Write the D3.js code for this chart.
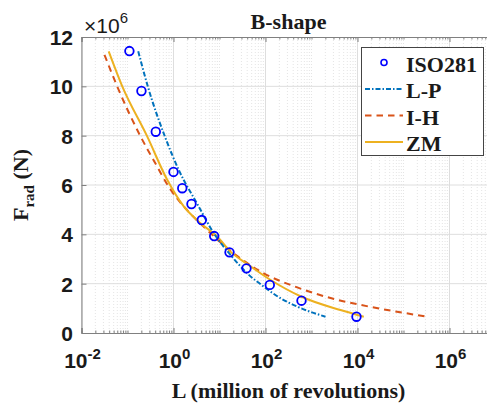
<!DOCTYPE html>
<html>
<head>
<meta charset="utf-8">
<script src="https://cdn.jsdelivr.net/npm/d3@7"></script>
<style>
  html, body { margin: 0; padding: 0; background: #fff; }
  svg { display: block; }
</style>
</head>
<body>
<svg id="chart" width="487" height="407"></svg>
<script>
// ---- Data (F in units of 1e6 N, L in million revolutions) ----
const isoL = [0.110, 0.201, 0.412, 1.0, 1.55, 2.46, 4.12, 7.67, 16.5, 38.6, 124, 606, 9500];
const isoF = [11.43, 9.81, 8.16, 6.53, 5.87, 5.23, 4.58, 3.93, 3.27, 2.62, 1.95, 1.31, 0.66];

const lpL = [0.171, 0.276, 0.670, 1.37, 3.27, 8.18, 17.3, 40.0, 91.8, 212, 489, 2014];
const lpF = [11.42, 10.0, 7.90, 6.52, 5.24, 3.94, 3.17, 2.42, 1.88, 1.41, 1.07, 0.66];

const ihL = [0.0316, 0.0596, 0.192, 0.40, 0.82, 1.8, 3.8, 22.3, 91.8, 489, 3926, 11600, 327000];
const ihF = [11.28, 10.0, 7.97, 6.89, 5.88, 5.06, 4.45, 3.17, 2.42, 1.85, 1.33, 1.14, 0.66];

const zmL = [0.039, 0.077, 0.268, 0.73, 1.67, 3.86, 8.9, 17.3, 40.0, 122, 607, 4266, 13700];
const zmF = [11.42, 10.0, 7.97, 6.21, 5.13, 4.45, 3.91, 3.30, 2.80, 2.18, 1.47, 0.93, 0.66];

const xTickVals = [1e-2, 1e0, 1e2, 1e4, 1e6];
const xTickExps = ["-2", "0", "2", "4", "6"];
const yTickVals = [0, 2, 4, 6, 8, 10, 12];

const seriesNames = ["ISO281", "L-P", "I-H", "ZM"];

// ---- Layout ----
const svg = d3.select("#chart");
const pL = 81.5, pT = 37, pB = 333, pR = 495.5;
const x = d3.scaleLog().domain([1e-2, 1e7]).range([pL, pR]);
const y = d3.scaleLinear().domain([0, 12]).range([pB, pT]);

const sansBold = "'Liberation Sans', Arial, sans-serif";
const serif = "'Liberation Serif', 'Times New Roman', serif";
const textCol = "#1a1a1a";
const axisCol = "#808080";

// plot background
svg.append("rect").attr("x", pL).attr("y", pT)
  .attr("width", pR - pL).attr("height", pB - pT).attr("fill", "#fff");

// minor vertical grid
const minorX = [];
for (let e = -2; e < 7; e++) {
  for (let m = 1; m <= 9; m++) {
    const v = m * Math.pow(10, e);
    if (m === 1 && e % 2 === 0) continue;
    minorX.push(v);
  }
}
const gGrid = svg.append("g");
gGrid.selectAll("line.minx").data(minorX).enter().append("line")
  .attr("x1", d => x(d)).attr("x2", d => x(d))
  .attr("y1", pT).attr("y2", pB)
  .attr("stroke", "#d8d8d8").attr("stroke-width", 0.7)
  .attr("stroke-dasharray", "1,2");
gGrid.selectAll("line.majx").data(xTickVals).enter().append("line")
  .attr("x1", d => x(d)).attr("x2", d => x(d))
  .attr("y1", pT).attr("y2", pB)
  .attr("stroke", "#dedede").attr("stroke-width", 1);
gGrid.selectAll("line.majy").data(yTickVals.slice(1, -1)).enter().append("line")
  .attr("x1", pL).attr("x2", pR)
  .attr("y1", d => y(d)).attr("y2", d => y(d))
  .attr("stroke", "#dedede").attr("stroke-width", 1);

// ---- Axes (ticks inward, MATLAB style) ----
const xAxisB = d3.axisBottom(x).tickValues(xTickVals).tickSize(-5).tickFormat("");
const xAxisT = d3.axisTop(x).tickValues(xTickVals).tickSize(-5).tickFormat("");
const xMinB = d3.axisBottom(x).tickValues(minorX).tickSize(-2.5).tickFormat("");
const xMinT = d3.axisTop(x).tickValues(minorX).tickSize(-2.5).tickFormat("");
const yAxisL = d3.axisLeft(y).tickValues(yTickVals).tickSize(-5).tickFormat("");

function styleAxis(g) {
  g.select(".domain").attr("stroke", axisCol);
  g.selectAll(".tick line").attr("stroke", axisCol);
}
svg.append("g").attr("transform", `translate(0,${pB})`).call(xAxisB).call(styleAxis);
svg.append("g").attr("transform", `translate(0,${pB})`).call(xMinB).call(styleAxis);
svg.append("g").attr("transform", `translate(0,${pT})`).call(xAxisT).call(styleAxis);
svg.append("g").attr("transform", `translate(0,${pT})`).call(xMinT).call(styleAxis);
svg.append("g").attr("transform", `translate(${pL},0)`).call(yAxisL).call(styleAxis);

// y tick labels
svg.append("g").selectAll("text").data(yTickVals).enter().append("text")
  .attr("x", 73).attr("y", d => y(d) + 8)
  .attr("text-anchor", "end")
  .attr("font-family", sansBold).attr("font-weight", "bold").attr("font-size", 21)
  .attr("fill", textCol)
  .text(d => d);

// x tick labels 10^n
const xl = svg.append("g").selectAll("text").data(xTickVals).enter().append("text")
  .attr("x", d => x(d) + 1).attr("y", 368)
  .attr("text-anchor", "middle")
  .attr("font-family", sansBold).attr("font-weight", "bold").attr("font-size", 21)
  .attr("fill", textCol);
xl.append("tspan").text("10");
xl.append("tspan").attr("dy", -9).attr("font-size", 15).text((d, i) => xTickExps[i]);

// exponent label
const ex = svg.append("text").attr("x", 84).attr("y", 33)
  .attr("font-family", "'Liberation Sans', Arial, sans-serif").attr("font-size", 21)
  .attr("fill", textCol);
ex.append("tspan").text("\u00d710");
ex.append("tspan").attr("dy", -10).attr("font-size", 15).text("6");

// title
svg.append("text").attr("x", (pL + pR) / 2).attr("y", 29)
  .attr("text-anchor", "middle").attr("font-family", serif)
  .attr("font-weight", "bold").attr("font-size", 22).attr("fill", textCol)
  .text("B-shape");

// x label
svg.append("text").attr("x", (pL + pR) / 2).attr("y", 398)
  .attr("text-anchor", "middle").attr("font-family", serif)
  .attr("font-weight", "bold").attr("font-size", 22).attr("fill", textCol)
  .text("L (million of revolutions)");

// y label
const yl = svg.append("text")
  .attr("transform", `translate(28,${(pT + pB) / 2}) rotate(-90)`)
  .attr("text-anchor", "middle").attr("font-family", serif)
  .attr("font-weight", "bold").attr("font-size", 22).attr("fill", textCol);
yl.append("tspan").text("F");
yl.append("tspan").attr("dy", 6).attr("font-size", 15).text("rad");
yl.append("tspan").attr("dy", -6).text(" (N)");

// ---- Lines ----
const line = d3.line().x(d => x(d[0])).y(d => y(d[1])).curve(d3.curveMonotoneX);
const zip = (a, b) => a.map((v, i) => [v, b[i]]);

const styles = {
  "L-P": { color: "#0072BD", dash: "5,2,1.5,2", data: zip(lpL, lpF) },
  "I-H": { color: "#D95319", dash: "6.5,5", data: zip(ihL, ihF) },
  "ZM":  { color: "#EDB120", dash: null, data: zip(zmL, zmF) }
};
["I-H", "ZM", "L-P"].forEach(k => {
  const s = styles[k];
  svg.append("path").datum(s.data)
    .attr("d", line).attr("fill", "none")
    .attr("stroke", s.color).attr("stroke-width", 2)
    .attr("stroke-dasharray", s.dash);
});

// ISO points
svg.append("g").selectAll("circle").data(zip(isoL, isoF)).enter().append("circle")
  .attr("cx", d => x(d[0])).attr("cy", d => y(d[1])).attr("r", 4.3)
  .attr("fill", "none").attr("stroke", "#0000ff").attr("stroke-width", 1.8);

// ---- Legend ----
const lg = svg.append("g");
lg.append("rect").attr("x", 361.5).attr("y", 47.5).attr("width", 122).attr("height", 108)
  .attr("fill", "#fff").attr("stroke", "#444").attr("stroke-width", 1);
const baselines = [71.5, 98, 124.5, 151];
seriesNames.forEach((name, i) => {
  const by = baselines[i], sy = by - 9;
  if (name === "ISO281") {
    lg.append("circle").attr("cx", 384).attr("cy", sy).attr("r", 3)
      .attr("fill", "none").attr("stroke", "#0000ff").attr("stroke-width", 1.6);
  } else {
    const s = styles[name];
    lg.append("line").attr("x1", 365).attr("x2", 403).attr("y1", sy).attr("y2", sy)
      .attr("stroke", s.color).attr("stroke-width", 2).attr("stroke-dasharray", s.dash);
  }
  lg.append("text").attr("x", 406).attr("y", by)
    .attr("font-family", serif).attr("font-weight", "bold").attr("font-size", 22)
    .attr("fill", textCol).text(name);
});
</script>
</body>
</html>
